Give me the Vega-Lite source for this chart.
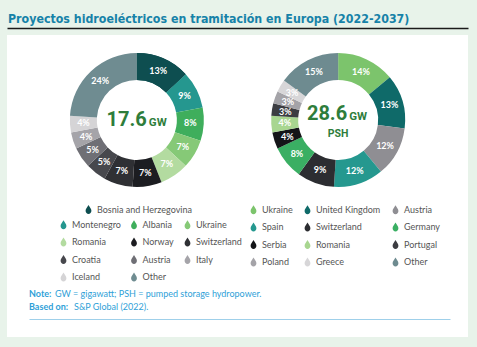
{
  "$schema": "https://vega.github.io/schema/vega-lite/v6.json",
  "width": 461,
  "height": 302,
  "autosize": {"type": "none"},
  "padding": {"left": 7, "top": 35, "right": 9, "bottom": 10},
  "background": "#e8f3ea",
  "title": {
    "text": "Proyectos hidroeléctricos en tramitación en Europa (2022-2037)",
    "anchor": "start",
    "font": "DejaVu Sans Condensed",
    "fontSize": 12.3,
    "fontWeight": "bold",
    "color": "#1682a8",
    "offset": 3,
    "dx": 1
  },
  "config": {
    "view": {"fill": "white", "stroke": null},
    "legend": {
      "orient": "none",
      "direction": "horizontal",
      "title": null,
      "columns": 3,
      "symbolType": "M0,-1C0.25,-0.55 0.65,-0.15 0.65,0.3C0.65,0.7 0.35,1 0,1C-0.35,1 -0.65,0.7 -0.65,0.3C-0.65,-0.15 -0.25,-0.55 0,-1Z",
      "symbolSize": 80,
      "symbolStrokeWidth": 0,
      "labelFont": "Lato",
      "labelFontSize": 9,
      "labelColor": "#555555",
      "labelOffset": 4,
      "rowPadding": 7.5,
      "columnPadding": 10
    },
    "axisTop": {"labels": false, "ticks": false, "grid": false, "title": null, "domainColor": "#1a1a1a", "domainWidth": 1.5},
    "axisBottom": {"labels": false, "ticks": false, "grid": false, "title": null, "domainColor": "#9fd0ea", "domainWidth": 1}
  },
  "datasets": {
    "shares": [
      {"chart": "hydro", "o": 1, "country": "Bosnia and Herzegovina", "pct": 13},
      {"chart": "hydro", "o": 2, "country": "Montenegro", "pct": 9},
      {"chart": "hydro", "o": 3, "country": "Albania", "pct": 8},
      {"chart": "hydro", "o": 4, "country": "Ukraine", "pct": 7},
      {"chart": "hydro", "o": 5, "country": "Romania", "pct": 7},
      {"chart": "hydro", "o": 6, "country": "Norway", "pct": 7},
      {"chart": "hydro", "o": 7, "country": "Switzerland", "pct": 7},
      {"chart": "hydro", "o": 8, "country": "Croatia", "pct": 5},
      {"chart": "hydro", "o": 9, "country": "Austria", "pct": 5},
      {"chart": "hydro", "o": 10, "country": "Italy", "pct": 4},
      {"chart": "hydro", "o": 11, "country": "Iceland", "pct": 4},
      {"chart": "hydro", "o": 12, "country": "Other", "pct": 24},
      {"chart": "psh", "o": 1, "country": "Ukraine", "pct": 14},
      {"chart": "psh", "o": 2, "country": "United Kingdom", "pct": 13},
      {"chart": "psh", "o": 3, "country": "Austria", "pct": 12},
      {"chart": "psh", "o": 4, "country": "Spain", "pct": 12},
      {"chart": "psh", "o": 5, "country": "Switzerland", "pct": 9},
      {"chart": "psh", "o": 6, "country": "Germany", "pct": 8},
      {"chart": "psh", "o": 7, "country": "Serbia", "pct": 4},
      {"chart": "psh", "o": 8, "country": "Romania", "pct": 4},
      {"chart": "psh", "o": 9, "country": "Portugal", "pct": 3},
      {"chart": "psh", "o": 10, "country": "Poland", "pct": 3},
      {"chart": "psh", "o": 11, "country": "Greece", "pct": 3},
      {"chart": "psh", "o": 12, "country": "Other", "pct": 15}
    ],
    "centers": [
      {"chart": "hydro", "total": "17.6", "unit": "GW", "sub": ""},
      {"chart": "psh", "total": "28.6", "unit": "GW", "sub": "PSH"}
    ],
    "notes": [
      {"line": "note", "label": "Note:", "body": "GW = gigawatt; PSH = pumped storage hydropower."},
      {"line": "source", "label": "Based on:", "body": "S&P Global (2022)."}
    ]
  },
  "layer": [
    {
      "data": {"name": "shares"},
      "layer": [
        {
          "transform": [{"filter": "datum.chart == 'hydro'"}],
          "mark": {"type": "arc", "radius": 67, "radius2": 40},
          "encoding": {
            "x": {"field": "chart", "type": "nominal", "scale": {"domain": ["hydro", "psh"], "padding": 0.645}, "axis": {"orient": "top", "offset": 7}},
            "y": {"value": 85},
            "theta": {"field": "pct", "type": "quantitative", "stack": true, "scale": {"domain": [0, 100]}},
            "order": {"field": "o", "type": "quantitative"},
            "color": {
              "field": "country",
              "type": "nominal",
              "scale": {
                "domain": ["Bosnia and Herzegovina", "Montenegro", "Albania", "Ukraine", "Romania", "Norway", "Switzerland", "Croatia", "Austria", "Italy", "Iceland", "Other"],
                "range": ["#0e4e50", "#25978f", "#3fae5c", "#86c977", "#b3dba0", "#1c1d21", "#2f3034", "#47484d", "#6f6f75", "#a5a4a9", "#d5d4d6", "#6f8c91"]
              },
              "legend": {
                "values": ["Montenegro", "Albania", "Ukraine", "Romania", "Norway", "Switzerland", "Croatia", "Austria", "Italy", "Iceland", "Other"],
                "legendX": 52,
                "legendY": 185,
                "columnPadding": 8.5
              }
            }
          }
        },
        {
          "transform": [{"filter": "datum.chart == 'hydro' && datum.country == 'Bosnia and Herzegovina'"}],
          "mark": {"type": "arc", "radius": 67, "radius2": 40},
          "encoding": {
            "x": {"field": "chart", "type": "nominal", "scale": {"domain": ["hydro", "psh"], "padding": 0.645}, "axis": {"orient": "top", "offset": 7}},
            "y": {"value": 85},
            "theta": {"field": "pct", "type": "quantitative", "stack": true, "scale": {"domain": [0, 100]}},
            "order": {"field": "o", "type": "quantitative"},
            "color": {
              "field": "country",
              "type": "nominal",
              "scale": {"domain": ["Bosnia and Herzegovina"], "range": ["#0e4e50"]},
              "legend": {"legendX": 77, "legendY": 170, "columns": 1}
            }
          }
        },
        {
          "transform": [{"filter": "datum.chart == 'psh'"}],
          "mark": {"type": "arc", "radius": 67, "radius2": 40},
          "encoding": {
            "x": {"field": "chart", "type": "nominal", "scale": {"domain": ["hydro", "psh"], "padding": 0.645}, "axis": {"orient": "top", "offset": 7}},
            "y": {"value": 85},
            "theta": {"field": "pct", "type": "quantitative", "stack": true, "scale": {"domain": [0, 100]}},
            "order": {"field": "o", "type": "quantitative"},
            "color": {
              "field": "country",
              "type": "nominal",
              "scale": {
                "domain": ["Ukraine", "United Kingdom", "Austria", "Spain", "Switzerland", "Germany", "Serbia", "Romania", "Portugal", "Poland", "Greece", "Other"],
                "range": ["#7cc46c", "#0f6a69", "#8f8e93", "#25988f", "#2c2d31", "#3aaf63", "#141518", "#a8d690", "#3c3d42", "#a4a3a8", "#d7d6d8", "#6e8b90"]
              },
              "legend": {"legendX": 242, "legendY": 170}
            }
          }
        },
        {
          "transform": [{"filter": "datum.chart == 'hydro'"}, {"calculate": "datum.pct + '%'", "as": "lbl"}],
          "mark": {"type": "text", "radius": 53.5, "color": "white", "font": "Lato", "fontSize": 9, "fontWeight": "bold"},
          "encoding": {
            "x": {"field": "chart", "type": "nominal", "scale": {"domain": ["hydro", "psh"], "padding": 0.645}, "axis": {"orient": "top", "offset": 7}},
            "y": {"value": 85},
            "theta": {"field": "pct", "type": "quantitative", "stack": true, "scale": {"domain": [0, 100]}},
            "order": {"field": "o", "type": "quantitative"},
            "text": {"field": "lbl", "type": "nominal"}
          }
        },
        {
          "transform": [{"filter": "datum.chart == 'psh'"}, {"calculate": "datum.pct + '%'", "as": "lbl"}],
          "mark": {"type": "text", "radius": 53.5, "color": "white", "font": "Lato", "fontSize": 9, "fontWeight": "bold"},
          "encoding": {
            "x": {"field": "chart", "type": "nominal", "scale": {"domain": ["hydro", "psh"], "padding": 0.645}, "axis": {"orient": "top", "offset": 7}},
            "y": {"value": 85},
            "theta": {"field": "pct", "type": "quantitative", "stack": true, "scale": {"domain": [0, 100]}},
            "order": {"field": "o", "type": "quantitative"},
            "text": {"field": "lbl", "type": "nominal"}
          }
        },
        {
          "data": {"name": "centers"},
          "transform": [{"filter": "datum.chart == 'hydro'"}],
          "layer": [
            {
              "mark": {"type": "text", "align": "right", "baseline": "alphabetic", "dx": 10, "font": "Roboto", "fontSize": 20, "fontWeight": "bold", "color": "#2e7d3b"},
              "encoding": {
                "x": {"field": "chart", "type": "nominal", "scale": {"domain": ["hydro", "psh"], "padding": 0.645}, "axis": {"orient": "top", "offset": 7}},
                "y": {"value": 91},
                "text": {"field": "total", "type": "nominal"}
              }
            },
            {
              "mark": {"type": "text", "align": "left", "baseline": "alphabetic", "dx": 12, "font": "Roboto", "fontSize": 11.5, "fontWeight": "bold", "color": "#2e7d3b"},
              "encoding": {
                "x": {"field": "chart", "type": "nominal", "scale": {"domain": ["hydro", "psh"], "padding": 0.645}, "axis": {"orient": "top", "offset": 7}},
                "y": {"value": 91},
                "text": {"field": "unit", "type": "nominal"}
              }
            }
          ]
        },
        {
          "data": {"name": "centers"},
          "transform": [{"filter": "datum.chart == 'psh'"}],
          "layer": [
            {
              "mark": {"type": "text", "align": "right", "baseline": "alphabetic", "dx": 9, "font": "Roboto", "fontSize": 20, "fontWeight": "bold", "color": "#2e7d3b"},
              "encoding": {
                "x": {"field": "chart", "type": "nominal", "scale": {"domain": ["hydro", "psh"], "padding": 0.645}, "axis": {"orient": "top", "offset": 7}},
                "y": {"value": 85},
                "text": {"field": "total", "type": "nominal"}
              }
            },
            {
              "mark": {"type": "text", "align": "left", "baseline": "alphabetic", "dx": 11, "font": "Roboto", "fontSize": 11.5, "fontWeight": "bold", "color": "#2e7d3b"},
              "encoding": {
                "x": {"field": "chart", "type": "nominal", "scale": {"domain": ["hydro", "psh"], "padding": 0.645}, "axis": {"orient": "top", "offset": 7}},
                "y": {"value": 85},
                "text": {"field": "unit", "type": "nominal"}
              }
            },
            {
              "mark": {"type": "text", "align": "center", "baseline": "alphabetic", "font": "Roboto", "fontSize": 10.5, "fontWeight": "bold", "color": "#2e7d3b"},
              "encoding": {
                "x": {"field": "chart", "type": "nominal", "scale": {"domain": ["hydro", "psh"], "padding": 0.645}, "axis": {"orient": "top", "offset": 7}},
                "y": {"value": 102},
                "text": {"field": "sub", "type": "nominal"}
              }
            }
          ]
        }
      ],
      "resolve": {"scale": {"color": "independent"}, "legend": {"color": "independent"}}
    },
    {
      "data": {"name": "notes"},
      "encoding": {
        "x": {"datum": 0, "type": "quantitative", "scale": {"domain": [0, 1], "range": [22, 443]}, "axis": {"orient": "bottom", "offset": -18}},
        "y": {"field": "line", "type": "nominal", "scale": {"domain": ["note", "source"], "range": [259, 272], "padding": 0}, "axis": null}
      },
      "layer": [
        {
          "mark": {"type": "text", "align": "left", "font": "Lato", "fontSize": 9, "fontWeight": "bold", "color": "#2f9fd8"},
          "encoding": {"text": {"field": "label", "type": "nominal"}}
        },
        {
          "transform": [{"filter": "datum.line == 'note'"}],
          "mark": {"type": "text", "align": "left", "dx": 26, "font": "Lato", "fontSize": 9, "color": "#2f9fd8"},
          "encoding": {"text": {"field": "body", "type": "nominal"}}
        },
        {
          "transform": [{"filter": "datum.line == 'source'"}],
          "mark": {"type": "text", "align": "left", "dx": 45, "font": "Lato", "fontSize": 9, "color": "#2f9fd8"},
          "encoding": {"text": {"field": "body", "type": "nominal"}}
        }
      ]
    }
  ],
  "resolve": {"scale": {"x": "independent", "y": "independent"}, "axis": {"x": "independent", "y": "independent"}}
}
